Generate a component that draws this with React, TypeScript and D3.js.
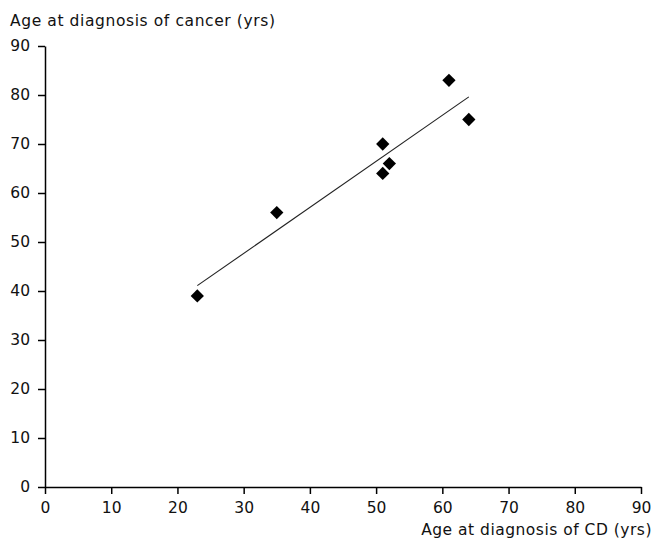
import React, { useEffect, useRef } from "react";
import * as d3 from "d3";

// age at diagnosis of CD (x) vs age at diagnosis of cancer (y)
const cdAge = [23, 35, 51, 51, 52, 61, 64];
const cancerAge = [39, 56, 70, 64, 66, 83, 75];
const xTicks = [0, 10, 20, 30, 40, 50, 60, 70, 80, 90];
const yTicks = [0, 10, 20, 30, 40, 50, 60, 70, 80, 90];

const W = 662;
const H = 540;
const FONT = "'DejaVu Sans', sans-serif";

export default function App() {
  const svgRef = useRef<SVGSVGElement>(null);

  useEffect(() => {
    const svg = d3.select(svgRef.current);
    svg.selectAll("*").remove();

    const x = d3.scaleLinear().domain([0, 90]).range([45, 641]);
    const y = d3.scaleLinear().domain([0, 90]).range([487, 46]);

    // x axis
    const gx = svg.append("g").attr("transform", `translate(0,${y(0)})`)
      .call(d3.axisBottom(x).tickValues(xTicks).tickSize(7).tickSizeOuter(0).tickPadding(8));
    // y axis
    const gy = svg.append("g").attr("transform", `translate(${x(0)},0)`)
      .call(d3.axisLeft(y).tickValues(yTicks).tickSize(7).tickSizeOuter(0).tickPadding(8));

    [gx, gy].forEach(g => {
      g.select(".domain").attr("stroke", "#000").attr("stroke-width", 1.5);
      g.selectAll(".tick line").attr("stroke", "#000").attr("stroke-width", 1.5);
      g.selectAll(".tick text").attr("fill", "#111").style("font-family", FONT).style("font-size", "15.5px");
    });

    // regression line across data range
    const mx = d3.mean(cdAge)!;
    const my = d3.mean(cancerAge)!;
    const sxy = d3.sum(cdAge, (v, i) => (v - mx) * (cancerAge[i] - my));
    const sxx = d3.sum(cdAge, v => (v - mx) ** 2);
    const slope = sxy / sxx;
    const icpt = my - slope * mx;
    const [x0, x1] = d3.extent(cdAge) as [number, number];
    svg.append("line")
      .attr("x1", x(x0)).attr("y1", y(icpt + slope * x0))
      .attr("x2", x(x1)).attr("y2", y(icpt + slope * x1))
      .attr("stroke", "#222").attr("stroke-width", 1.1);

    // diamond markers
    const diamond = d3.symbol().type(d3.symbolSquare).size(88);
    svg.selectAll(".pt")
      .data(cdAge)
      .join("path")
      .attr("class", "pt")
      .attr("d", diamond)
      .attr("fill", "#000")
      .attr("transform", (d, i) => `translate(${x(d)},${y(cancerAge[i])}) rotate(45)`);

    svg.append("text")
      .attr("x", 10).attr("y", 26)
      .style("font-family", FONT).style("font-size", "15.5px").style("letter-spacing", "0.6px").attr("fill", "#111")
      .text("Age at diagnosis of cancer (yrs)");

    svg.append("text")
      .attr("x", 652).attr("y", 535).attr("text-anchor", "end")
      .style("font-family", FONT).style("font-size", "15.5px").style("letter-spacing", "0.5px").attr("fill", "#111")
      .text("Age at diagnosis of CD (yrs)");
  }, []);

  return (
    <svg ref={svgRef} width={W} height={H} style={{ position: "absolute", left: 0, top: 0 }} />
  );
}
